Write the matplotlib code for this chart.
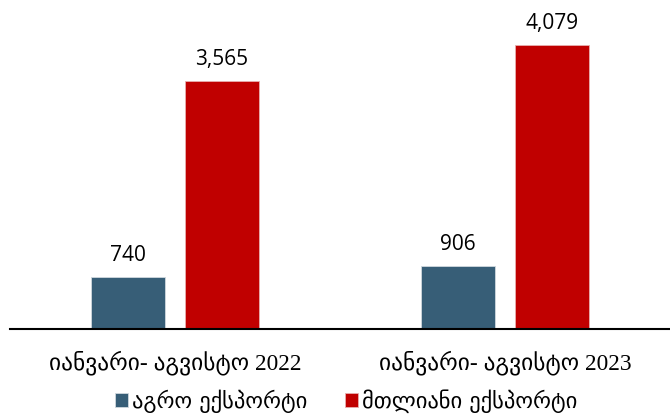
import matplotlib.pyplot as plt
import numpy as np

categories = ["იანვარი- აგვისტო 2022", "იანვარი- აგვისტო 2023"]
agro_export = [740, 906]
total_export = [3565, 4079]
series_names = ["აგრო ექსპორტი", "მთლიანი ექსპორტი"]

plt.rcParams['font.family'] = ['Open Sans', 'DejaVu Sans']

fig = plt.figure(figsize=(6.7, 4.17), dpi=100)
ax = fig.add_axes([10 / 670, 88 / 417, 660 / 670, 329 / 417])

x = np.arange(len(categories))
w = 0.224
off = 0.142
b1 = ax.bar(x - off, agro_export, w, color='#375E77', edgecolor='#d0d8de', linewidth=0.6, label=series_names[0])
b2 = ax.bar(x + off, total_export, w, color='#C00000', edgecolor='#e8b0b0', linewidth=0.6, label=series_names[1])

for bars in (b1, b2):
    for r in bars:
        v = r.get_height()
        ax.annotate(f"{v:,.0f}", (r.get_x() + r.get_width() / 2, v), xytext=(0, 8),
                    textcoords='offset points', ha='center', va='bottom', fontsize=15)

ax.set_xlim(-0.5, 1.5)
ax.set_ylim(0, 4727)
ax.set_xticks(x)
ax.set_xticklabels(categories, fontsize=16.8, family=['Liberation Serif', 'DejaVu Sans'])
ax.tick_params(axis='x', length=0, pad=15)
ax.set_yticks([])
for s in ('top', 'right', 'left'):
    ax.spines[s].set_visible(False)
ax.spines['bottom'].set_linewidth(1.5)

fig.legend(handles=[b1, b2], loc='center', bbox_to_anchor=(346 / 670, 1 - 401 / 417), ncol=2,
           frameon=False, prop={'family': ['DejaVu Sans'], 'size': 16.2},
           handlelength=0.58, handleheight=0.58, handletextpad=0.15, columnspacing=1.7)

fig.savefig("out.png", dpi=100)
